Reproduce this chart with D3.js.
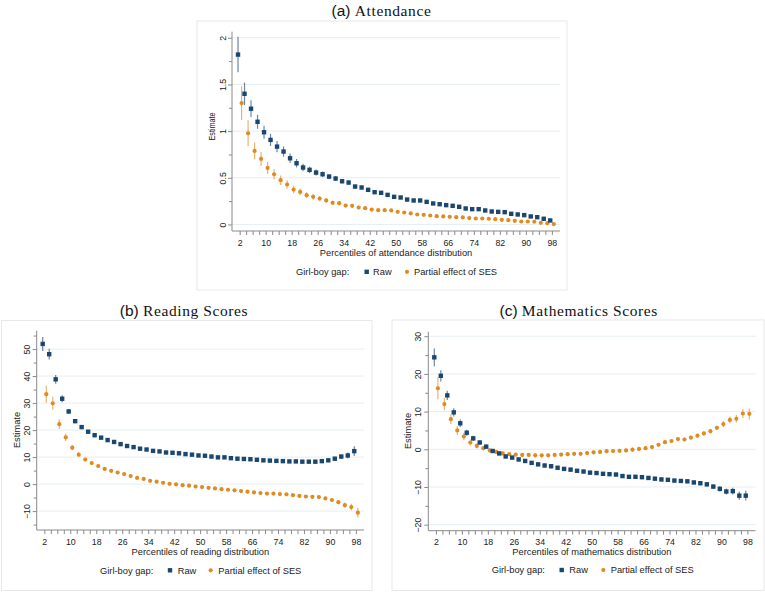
<!DOCTYPE html>
<html><head><meta charset="utf-8">
<script src="https://cdn.jsdelivr.net/npm/d3@7/dist/d3.min.js"></script>
<style>body{margin:0;background:#fff}svg{display:block}</style>
</head><body>
<script>
// ---------- DATA ----------
const percentiles = [2,4,6,8,10,12,14,16,18,20,22,24,26,28,30,32,34,36,38,40,42,44,46,48,50,52,54,56,58,60,62,64,66,68,70,72,74,76,78,80,82,84,86,88,90,92,94,96,98];
const xTickLabels = [2,10,18,26,34,42,50,58,66,74,82,90,98];

// (a) Attendance
const attRaw = [1.82,1.40,1.24,1.10,0.988,0.906,0.834,0.781,0.709,0.656,0.61,0.585,0.556,0.538,0.513,0.492,0.463,0.449,0.406,0.396,0.371,0.346,0.339,0.317,0.296,0.289,0.267,0.257,0.257,0.242,0.225,0.217,0.207,0.20,0.189,0.171,0.164,0.164,0.15,0.139,0.135,0.132,0.114,0.107,0.10,0.086,0.078,0.061,0.043];
const attRawCI = [0.19,0.12,0.09,0.075,0.07,0.065,0.06,0.055,0.05,0.045,0.04,0.035,0.032,0.03,0.028,0.026,0.025,0.024,0.022,0.021,0.02,0.02,0.019,0.018,0.018,0.017,0.017,0.016,0.016,0.016,0.015,0.015,0.015,0.015,0.014,0.014,0.014,0.014,0.014,0.014,0.014,0.014,0.014,0.014,0.014,0.014,0.015,0.015,0.016];
const attSES = [1.30,0.977,0.788,0.702,0.606,0.538,0.474,0.428,0.374,0.349,0.314,0.296,0.278,0.257,0.232,0.228,0.203,0.20,0.182,0.175,0.16,0.153,0.153,0.15,0.135,0.128,0.118,0.107,0.103,0.096,0.089,0.086,0.082,0.078,0.075,0.068,0.064,0.064,0.061,0.057,0.05,0.046,0.039,0.032,0.032,0.029,0.018,0.014,0.004];
const attSESCI = [0.18,0.14,0.09,0.075,0.065,0.055,0.05,0.045,0.04,0.035,0.03,0.03,0.028,0.025,0.022,0.021,0.02,0.019,0.018,0.017,0.017,0.016,0.016,0.015,0.015,0.015,0.014,0.014,0.014,0.013,0.013,0.013,0.013,0.013,0.012,0.012,0.012,0.012,0.012,0.012,0.012,0.012,0.012,0.012,0.012,0.012,0.012,0.013,0.014];

// (b) Reading
const readRaw = [51.9,48.1,38.8,31.6,26.9,23.3,21.1,19.4,18.1,17.2,16.3,15.6,14.8,14.1,13.7,13.1,12.8,12.3,12.1,11.7,11.6,11.4,11.1,10.9,10.6,10.5,10.2,9.9,9.9,9.6,9.4,9.3,9.2,9.0,8.8,8.7,8.6,8.5,8.4,8.4,8.3,8.3,8.3,8.5,8.8,9.4,10.2,10.6,12.2];
const readRawCI = [2.6,2.0,1.6,1.3,0.9,0.8,0.7,0.6,0.6,0.6,0.55,0.55,0.5,0.5,0.5,0.5,0.5,0.5,0.5,0.5,0.5,0.5,0.5,0.5,0.5,0.5,0.5,0.5,0.5,0.5,0.5,0.5,0.5,0.5,0.5,0.5,0.5,0.5,0.5,0.5,0.5,0.5,0.55,0.6,0.6,0.7,0.8,1.1,1.8];
const readSES = [33.3,29.9,22.2,17.3,13.5,10.9,9.1,7.8,6.7,5.6,4.9,4.3,3.7,3.0,2.3,1.9,1.2,0.9,0.5,0.1,-0.1,-0.4,-0.6,-0.9,-1.1,-1.4,-1.6,-1.9,-2.1,-2.3,-2.6,-2.8,-3.1,-3.3,-3.5,-3.5,-3.7,-3.8,-4.1,-4.4,-4.6,-4.7,-4.8,-5.3,-5.9,-6.7,-7.8,-8.5,-10.6];
const readSESCI = [3.1,2.4,1.8,1.3,1.0,0.8,0.7,0.6,0.6,0.55,0.5,0.5,0.5,0.5,0.5,0.5,0.5,0.5,0.5,0.5,0.5,0.5,0.5,0.5,0.5,0.5,0.5,0.5,0.5,0.5,0.5,0.5,0.5,0.5,0.5,0.5,0.5,0.5,0.5,0.5,0.5,0.5,0.55,0.6,0.7,0.8,1.0,1.2,1.8];

// (c) Mathematics
const mathRaw = [24.4,19.5,14.3,9.8,6.9,4.4,2.9,1.8,0.7,-0.45,-1.1,-1.9,-2.2,-2.7,-3.1,-3.6,-4.0,-4.3,-4.5,-4.9,-5.2,-5.4,-5.7,-5.9,-6.2,-6.3,-6.5,-6.6,-6.7,-7.1,-7.3,-7.3,-7.4,-7.6,-7.8,-8.0,-8.1,-8.3,-8.4,-8.5,-8.8,-9.0,-9.3,-9.9,-10.5,-11.2,-11.1,-12.3,-12.3];
const mathRawCI = [2.35,1.5,1.2,1.1,1.0,0.8,0.7,0.6,0.55,0.5,0.5,0.5,0.5,0.5,0.5,0.5,0.5,0.5,0.5,0.5,0.5,0.5,0.5,0.5,0.5,0.5,0.5,0.5,0.5,0.5,0.5,0.5,0.5,0.5,0.5,0.5,0.5,0.5,0.5,0.5,0.5,0.55,0.6,0.6,0.7,0.8,0.9,1.1,1.3];
const mathSES = [16.2,12.0,8.0,5.0,3.4,1.8,0.9,0.3,-0.3,-0.7,-1.1,-1.3,-1.4,-1.5,-1.5,-1.6,-1.6,-1.6,-1.5,-1.4,-1.3,-1.2,-1.2,-1.0,-0.8,-0.7,-0.5,-0.45,-0.4,-0.3,-0.1,0.1,0.3,0.6,1.2,1.9,2.2,2.7,2.6,3.1,3.6,4.2,4.8,5.7,6.7,7.8,8.1,9.5,9.4];
const mathSESCI = [2.9,1.6,1.3,1.2,1.0,0.8,0.7,0.6,0.55,0.5,0.5,0.5,0.5,0.5,0.5,0.5,0.5,0.5,0.5,0.5,0.5,0.5,0.5,0.5,0.5,0.5,0.5,0.5,0.5,0.5,0.5,0.5,0.5,0.5,0.5,0.5,0.5,0.5,0.5,0.5,0.5,0.55,0.6,0.6,0.8,0.9,1.0,1.2,1.4];

const yTicksA = [0,0.5,1,1.5,2];
const yTicksB = [-10,0,10,20,30,40,50];
const yTicksC = [-20,-10,0,10,20,30];

// ---------- LAYOUT ----------
const W = 765, H = 592;
const RAW = "#1a476f", SES = "#e08a22";
const SANS = "'Liberation Sans', Arial, sans-serif";
const SERIF = "'Liberation Serif', 'Times New Roman', serif";

const panels = [
  {letter:"(a)", name:"Attendance", box:[197,21,567,290], titleX:381.5, titleY:15.5,
   xr:[232,560], yr:[231,31.7], yd:[-0.07,2.065], yTicks:yTicksA, yMinor:[0.25,0.75,1.25,1.75], yFmt:d=>String(d),
   raw:attRaw, rawCI:attRawCI, ses:attSES, sesCI:attSESCI, xlab:"Percentiles of attendance distribution",
   yTitleX:212, yTitleY:126.5, yTitleLen:28, yLabX:222.5, tickLabY:243, xTitleY:252.5, legY:271.8, legX:[296,366.7,373,407,414]},
  {letter:"(b)", name:"Reading Scores", box:[1.5,320.5,372,590.5], titleX:184, titleY:315.5,
   xr:[36.7,364], yr:[530,330.7], yd:[-17,56.8], yTicks:yTicksB, yMinor:[-15,-5,5,15,25,35,45,55], yFmt:d=>d<0?"\u2212"+Math.abs(d):String(d),
   raw:readRaw, rawCI:readRawCI, ses:readSES, sesCI:readSESCI, xlab:"Percentiles of reading distribution",
   yTitleX:16.5, yTitleY:430, yTitleLen:null, yLabX:27, tickLabY:541.7, xTitleY:551.3, legY:570.3, legX:[100,170,177.7,210.7,218.3]},
  {letter:"(c)", name:"Mathematics Scores", box:[392,320,764,590.5], titleX:578.7, titleY:315.5,
   xr:[428.3,755.5], yr:[530.7,331.7], yd:[-21.6,31.2], yTicks:yTicksC, yMinor:[-15,-5,5,15,25], yFmt:d=>d<0?"\u2212"+Math.abs(d):String(d),
   raw:mathRaw, rawCI:mathRawCI, ses:mathSES, sesCI:mathSESCI, xlab:"Percentiles of mathematics distribution",
   yTitleX:407.7, yTitleY:431, yTitleLen:null, yLabX:417.5, tickLabY:541.7, xTitleY:551.3, legY:570, legX:[491.7,561.7,569.3,603.3,610.7]}
];

const svg = d3.select("body").append("svg").attr("width",W).attr("height",H);
svg.append("rect").attr("width",W).attr("height",H).attr("fill","#fff");

const AX = "#8a8a8a", GRID = "#e6eef1", FS = 8.8, FT = 9.3;

panels.forEach(p => {
  const g = svg.append("g");
  g.append("rect").attr("x",p.box[0]).attr("y",p.box[1])
    .attr("width",p.box[2]-p.box[0]).attr("height",p.box[3]-p.box[1])
    .attr("fill","#fff").attr("stroke","#e8e8e8").attr("stroke-width",1);

  // title
  const t = svg.append("text").attr("x",p.titleX).attr("y",p.titleY).attr("text-anchor","middle").attr("fill","#111");
  t.append("tspan").attr("font-family",SANS).attr("font-size",15.5).text(p.letter+" ");
  t.append("tspan").attr("font-family",SERIF).attr("font-size",15.5).attr("letter-spacing",0.6).text(p.name);

  const x = d3.scaleLinear().domain([-0.35,100.5]).range(p.xr);
  const y = d3.scaleLinear().domain(p.yd).range(p.yr);

  // gridlines
  g.selectAll("line.grid").data(p.yTicks).join("line")
    .attr("x1",p.xr[0]).attr("x2",p.xr[1]).attr("y1",d=>y(d)).attr("y2",d=>y(d))
    .attr("stroke",GRID).attr("stroke-width",1);

  // y axis
  const yAxis = d3.axisLeft(y).tickValues(p.yTicks).tickFormat(p.yFmt).tickSize(4).tickPadding(3);
  const ya = g.append("g").attr("transform",`translate(${p.xr[0]},0)`).call(yAxis);
  const yMin = d3.axisLeft(y).tickValues(p.yMinor).tickFormat("").tickSize(3);
  const ym = g.append("g").attr("transform",`translate(${p.xr[0]},0)`).call(yMin);
  ym.select(".domain").remove();
  [ya,ym].forEach(a=>{a.selectAll("line").attr("stroke",AX);});
  ya.select(".domain").attr("stroke",AX).attr("d",`M0,${p.yr[0]}V${p.yr[1]}`);
  ya.selectAll("text").attr("font-family",SANS).attr("font-size",FS).attr("fill","#222")
    .attr("text-anchor","middle").attr("x",0).attr("y",0)
    .attr("transform",`translate(${p.yLabX-p.xr[0]},0) rotate(-90)`)
    .attr("dy","0.35em");

  // x axis
  const xAxis = d3.axisBottom(x).tickValues(xTickLabels).tickSize(4).tickPadding(2);
  const xa = g.append("g").attr("transform",`translate(0,${p.yr[0]})`).call(xAxis);
  xa.select(".domain").attr("stroke",AX).attr("d",`M${p.xr[0]},0H${p.xr[1]}`);
  xa.selectAll("line").attr("stroke",AX);
  xa.selectAll("text").attr("font-family",SANS).attr("font-size",FS).attr("fill","#222")
    .attr("y",p.tickLabY-p.yr[0]).attr("dy","0.35em");
  const xMinorVals = percentiles.filter(v=>!xTickLabels.includes(v));
  const xm = g.append("g").attr("transform",`translate(0,${p.yr[0]})`)
    .call(d3.axisBottom(x).tickValues(xMinorVals).tickFormat("").tickSize(4));
  xm.select(".domain").remove();
  xm.selectAll("line").attr("stroke",AX);

  // axis titles
  g.append("text").attr("x",(p.xr[0]+p.xr[1])/2).attr("y",p.xTitleY).attr("dy","0.35em")
    .attr("text-anchor","middle").attr("font-family",SANS).attr("font-size",FT).attr("fill","#222").text(p.xlab);
  const yt = g.append("text").attr("transform",`translate(${p.yTitleX},${p.yTitleY}) rotate(-90)`)
    .attr("dy","0.35em").attr("text-anchor","middle").attr("font-family",SANS).attr("font-size",FT).attr("fill","#222").text("Estimate");
  if (p.yTitleLen) yt.attr("textLength",p.yTitleLen).attr("lengthAdjust","spacingAndGlyphs");

  // data
  const rawData = percentiles.map((pc,i)=>({x:pc-0.5,v:p.raw[i],ci:p.rawCI[i]}));
  const sesData = percentiles.map((pc,i)=>({x:pc+0.6,v:p.ses[i],ci:p.sesCI[i]}));

  const drawCI = (data,col) => g.append("g").selectAll("line").data(data).join("line")
    .attr("x1",d=>x(d.x)).attr("x2",d=>x(d.x)).attr("y1",d=>y(d.v-d.ci)).attr("y2",d=>y(d.v+d.ci))
    .attr("stroke",col).attr("stroke-width",1.2).attr("stroke-opacity",0.65);
  drawCI(sesData,SES);
  drawCI(rawData,RAW);
  g.append("g").selectAll("circle").data(sesData).join("circle")
    .attr("cx",d=>x(d.x)).attr("cy",d=>y(d.v)).attr("r",2.1).attr("fill",SES);
  g.append("g").selectAll("rect").data(rawData).join("rect")
    .attr("x",d=>x(d.x)-2.2).attr("y",d=>y(d.v)-2.2).attr("width",4.4).attr("height",4.4).attr("fill",RAW);

  // legend
  const L = g.append("g").attr("font-family",SANS).attr("font-size",FT).attr("fill","#222");
  L.append("text").attr("x",p.legX[0]).attr("y",p.legY).attr("dy","0.35em").text("Girl-boy gap:");
  L.append("rect").attr("x",p.legX[1]-2.2).attr("y",p.legY-2.2).attr("width",4.4).attr("height",4.4).attr("fill",RAW);
  L.append("text").attr("x",p.legX[2]).attr("y",p.legY).attr("dy","0.35em").text("Raw");
  L.append("circle").attr("cx",p.legX[3]).attr("cy",p.legY).attr("r",2.1).attr("fill",SES);
  L.append("text").attr("x",p.legX[4]).attr("y",p.legY).attr("dy","0.35em").text("Partial effect of SES");
});
</script>
</body></html>
